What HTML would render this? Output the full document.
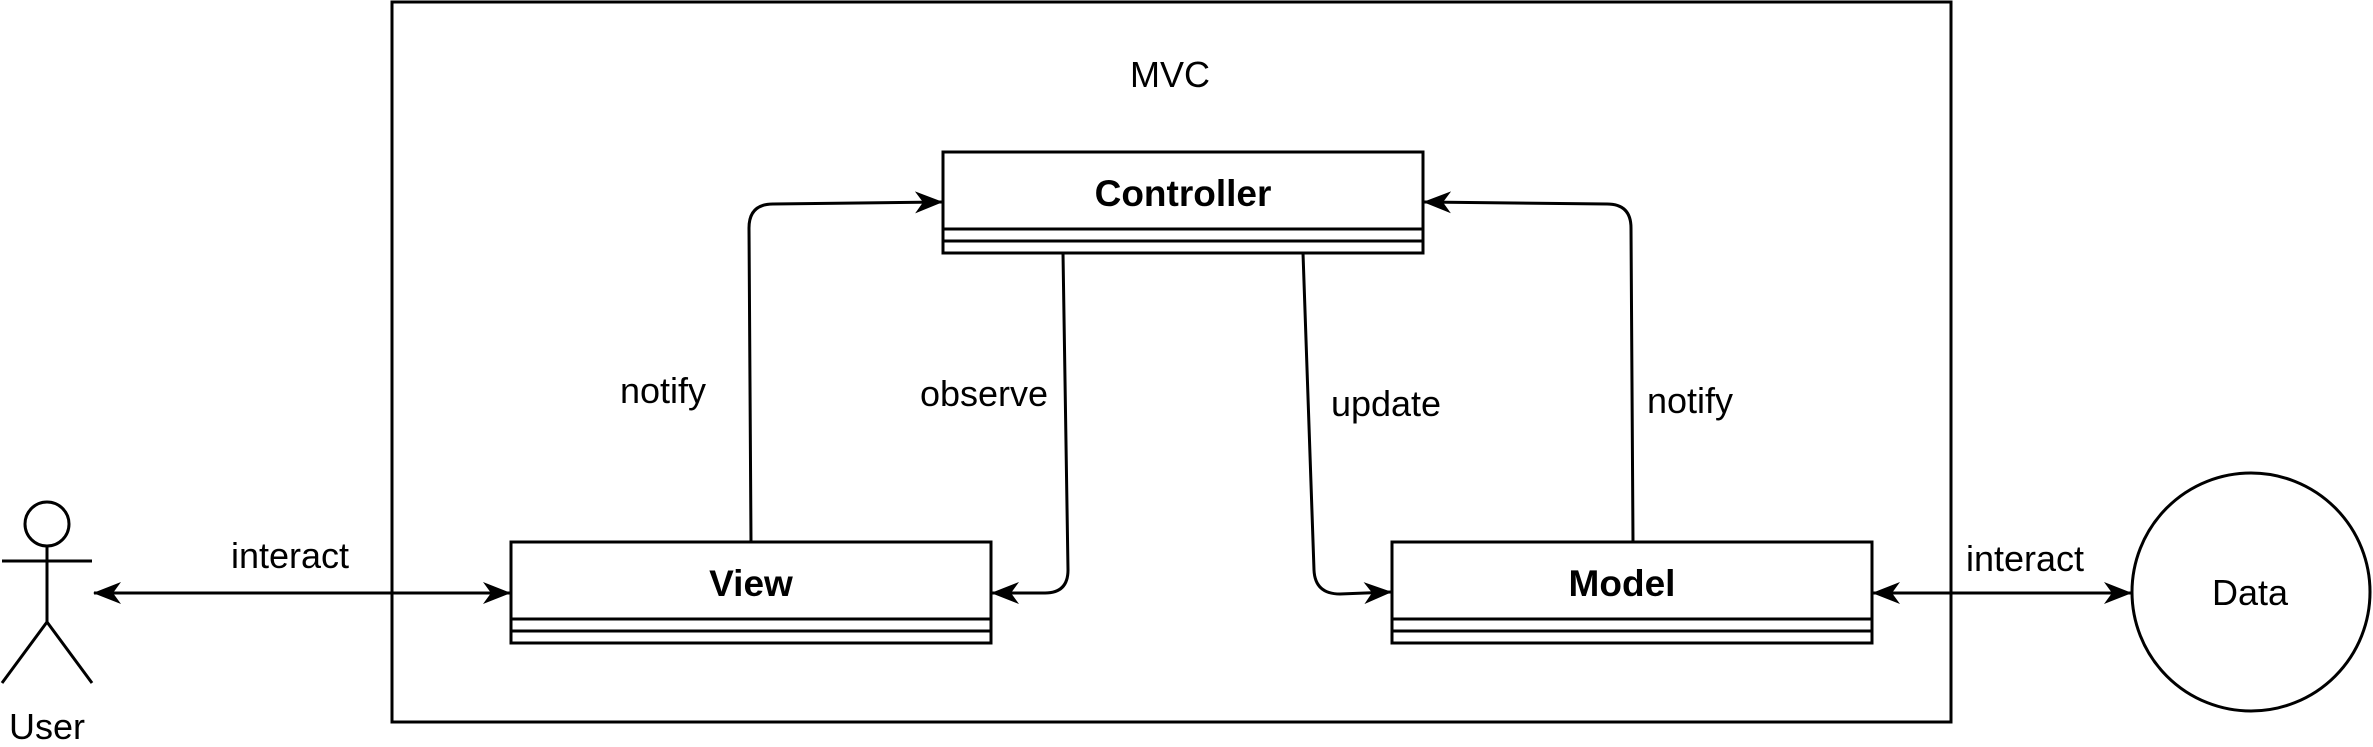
<!DOCTYPE html>
<html><head><meta charset="utf-8"><style>
html,body{margin:0;padding:0;background:#fff;}
svg{display:block;}
text{font-family:"Liberation Sans",Arial,sans-serif;fill:#000;}
</style></head><body>
<svg width="2373" height="747" viewBox="0 0 2373 747" xmlns="http://www.w3.org/2000/svg">
<defs>
<marker id="a" viewBox="0 0 28 22" refX="27" refY="11" markerWidth="28" markerHeight="22" markerUnits="userSpaceOnUse" orient="auto-start-reverse">
<path d="M0,0 L28,11 L0,22 L8,11 Z" fill="#000"/>
</marker>
</defs>
<g fill="none" stroke="#000" stroke-width="3">
<rect x="392" y="2" width="1559" height="720"/>
<rect x="943" y="152" width="480" height="101" fill="#fff"/>
<line x1="943" y1="229" x2="1423" y2="229"/>
<line x1="943" y1="241" x2="1423" y2="241"/>
<rect x="511" y="542" width="480" height="101" fill="#fff"/>
<line x1="511" y1="619" x2="991" y2="619"/>
<line x1="511" y1="631" x2="991" y2="631"/>
<rect x="1392" y="542" width="480" height="101" fill="#fff"/>
<line x1="1392" y1="619" x2="1872" y2="619"/>
<line x1="1392" y1="631" x2="1872" y2="631"/>
<ellipse cx="2251" cy="592" rx="119" ry="119"/>
<circle cx="47" cy="524" r="22"/>
<line x1="47" y1="546" x2="47" y2="622"/>
<line x1="2" y1="561" x2="92" y2="561"/>
<line x1="47" y1="622" x2="2" y2="683"/>
<line x1="47" y1="622" x2="92" y2="683"/>
<line x1="94" y1="593" x2="510" y2="593" marker-start="url(#a)" marker-end="url(#a)"/>
<line x1="1873" y1="593" x2="2131" y2="593" marker-start="url(#a)" marker-end="url(#a)"/>
<path d="M751,542 L749,228 Q749,204 773,204 L942,202" marker-end="url(#a)"/>
<path d="M1063,253 L1068,570 Q1068,593 1045,593 L992,593" marker-end="url(#a)"/>
<path d="M1303,253 L1314,570 Q1315,594 1340,594 L1391,592" marker-end="url(#a)"/>
<path d="M1633,542 L1631,228 Q1631,204 1607,204 L1424,202" marker-end="url(#a)"/>
</g>
<g font-size="36" text-anchor="middle">
<text x="1170" y="87">MVC</text>
<text x="290" y="568">interact</text>
<text x="2025" y="571">interact</text>
<text x="663" y="403">notify</text>
<text x="984" y="406">observe</text>
<text x="1386" y="416">update</text>
<text x="1690" y="413">notify</text>
<text x="47" y="739">User</text>
<text x="2250" y="605">Data</text>
</g>
<g font-size="37" font-weight="bold" text-anchor="middle">
<text x="1183" y="206">Controller</text>
<text x="751" y="596">View</text>
<text x="1622" y="596">Model</text>
</g>
</svg>
</body></html>
